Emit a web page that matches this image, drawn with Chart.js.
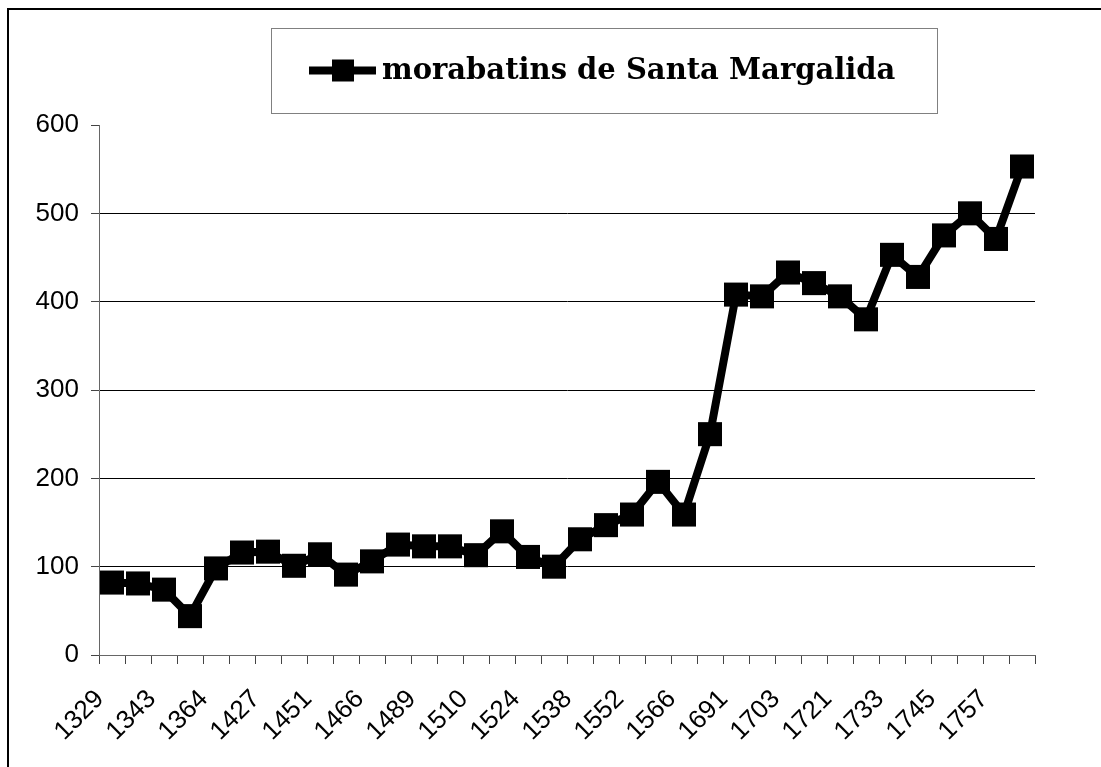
<!DOCTYPE html>
<html>
<head>
<meta charset="utf-8">
<script src="https://cdn.jsdelivr.net/npm/chart.js@4/dist/chart.umd.min.js"></script>
<style>
    html, body { margin: 0; padding: 0; background: #fff; }
    #wrap { position: relative; width: 1101px; height: 767px; overflow: hidden; }
    #frame {
        position: absolute; left: 7px; top: 8px; right: -10px; bottom: -10px;
        border-top: 2px solid #000; border-left: 2px solid #000;
        pointer-events: none;
    }
</style>
</head>
<body>
<div id="wrap">
    <canvas id="chart"></canvas>
    <div id="frame"></div>
</div>
<script>
// 目盛りに表示される年 (1つおき)
const yearLabels = ['1329', '1343', '1364', '1427', '1451', '1466', '1489', '1510', '1524',
    '1538', '1552', '1566', '1691', '1703', '1721', '1733', '1745', '1757'];
// カテゴリ: ラベル付きの年の間に無名のカテゴリが1つずつ入る
const categories = yearLabels.flatMap(y => [y, '']);

const seriesName = 'morabatins de Santa Margalida';
const seriesValues = [82, 81, 74, 44, 98, 116, 117, 101, 114, 91, 106, 125,
    123, 123, 113, 140, 111, 100, 131, 147, 159, 196, 159, 250,
    408, 406, 433, 421, 406, 380, 453, 428, 475, 500, 471, 553];

const yTicks = [0, 100, 200, 300, 400, 500, 600];

// 枠付きの凡例 (線 + 四角マーカー)
const boxLegend = {
    id: 'boxLegend',
    afterDraw(chart) {
        const ctx = chart.ctx;
        const ds = chart.data.datasets[0];
        const x0 = 271, y0 = 28, w = 666, h = 85;
        ctx.save();
        ctx.strokeStyle = '#808080';
        ctx.lineWidth = 1;
        ctx.strokeRect(x0 + 0.5, y0 + 0.5, w, h);

        const cy = y0 + h / 2;
        ctx.strokeStyle = ds.borderColor;
        ctx.lineWidth = ds.borderWidth;
        ctx.beginPath();
        ctx.moveTo(309, cy);
        ctx.lineTo(376, cy);
        ctx.stroke();
        ctx.fillStyle = ds.pointBackgroundColor;
        ctx.fillRect(332, cy - 11, 22, 22);

        ctx.fillStyle = '#000';
        ctx.font = 'bold 29px "DejaVu Serif"';
        ctx.textBaseline = 'middle';
        ctx.textAlign = 'left';
        ctx.fillText(ds.label, 382, cy + 1);
        ctx.restore();
    }
};

const ctx = document.getElementById('chart').getContext('2d');
new Chart(ctx, {
    type: 'line',
    data: {
        labels: categories,
        datasets: [{
            label: seriesName,
            data: seriesValues,
            borderColor: '#000',
            borderWidth: 8,
            borderJoinStyle: 'miter',
            tension: 0,
            fill: false,
            pointStyle: 'rect',
            pointRadius: 17,
            pointBackgroundColor: '#000',
            pointBorderColor: '#000',
            pointBorderWidth: 0,
            pointHoverRadius: 17
        }]
    },
    options: {
        responsive: true,
        maintainAspectRatio: false,
        animation: false,
        layout: { padding: { left: 9, top: 125, right: 66, bottom: 12 } },
        plugins: {
            legend: { display: false },
            tooltip: { enabled: false }
        },
        scales: {
            x: {
                type: 'category',
                offset: true,
                grid: {
                    offset: true,
                    drawOnChartArea: false,
                    color: '#444',
                    tickLength: 9
                },
                border: { color: '#666', width: 1 },
                ticks: {
                    autoSkip: false,
                    maxRotation: 45,
                    minRotation: 45,
                    color: '#000',
                    padding: 20,
                    labelOffset: -12,
                    font: { family: '"Liberation Sans"', size: 26 }
                },
                afterFit(scale) { scale.height = 100; }
            },
            y: {
                min: 0,
                max: 600,
                afterBuildTicks(scale) { scale.ticks = yTicks.map(v => ({ value: v })); },
                grid: {
                    color: c => (c.tick && c.tick.value === 600) ? 'rgba(0,0,0,0)' : '#000',
                    tickColor: '#444',
                    lineWidth: 1,
                    tickLength: 8
                },
                border: { color: '#666', width: 1 },
                ticks: {
                    color: '#000',
                    padding: 12,
                    font: { family: '"Liberation Sans"', size: 26 }
                },
                afterFit(scale) { scale.width = 90; }
            }
        }
    },
    plugins: [boxLegend]
});
</script>
</body>
</html>
